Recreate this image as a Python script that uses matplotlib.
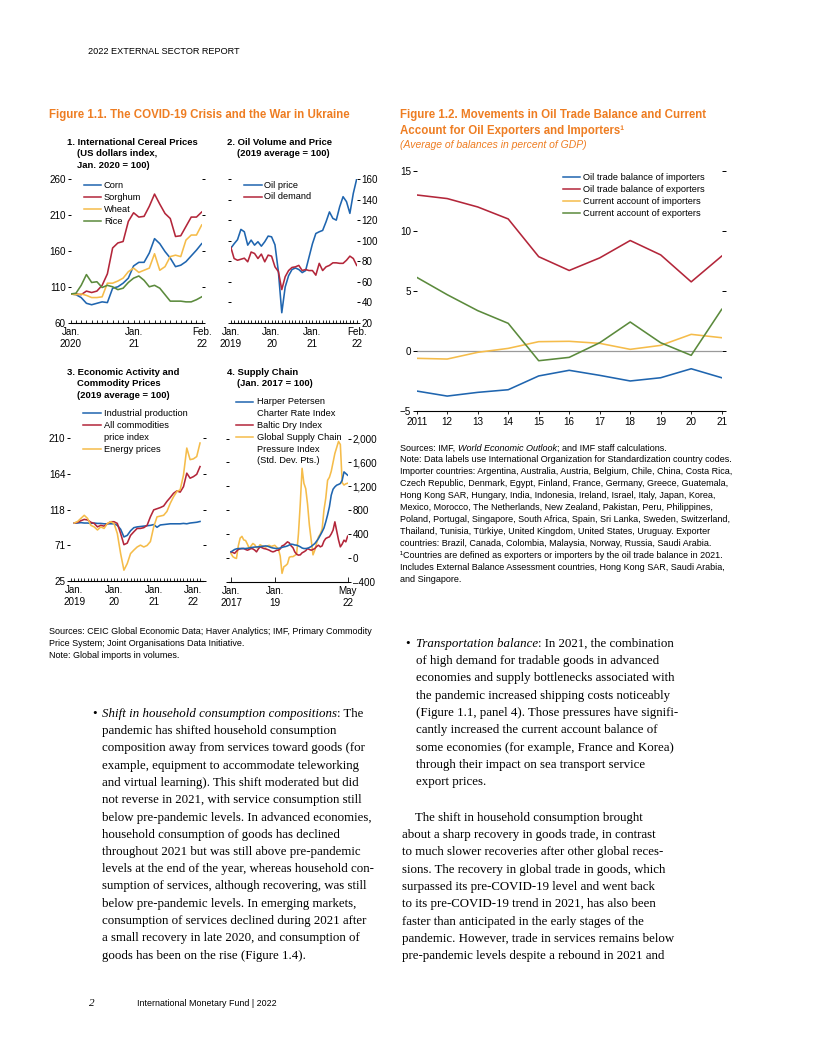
import matplotlib
matplotlib.use("Agg")
import matplotlib.pyplot as plt
from matplotlib.lines import Line2D
import numpy as np

W, H = 816, 1056
SANS = ["Liberation Sans Narrow", "Liberation Sans", "DejaVu Sans"]
SERIF = ["Liberation Serif", "DejaVu Serif"]
ORANGE = "#EE7D22"
BLUE = "#1F65AF"
RED = "#B3263A"
YELLOW = "#F5BC4A"
GREEN = "#5B8A3C"

# ---- Figure 1.1 panel 1: cereal prices, Jan 2020 - Feb 2022 (Jan 2020 = 100)
corn = [100, 99, 95, 87, 85, 87, 89, 88, 108, 110, 115, 122, 139,
        144, 144, 157, 177, 170, 159, 150, 138, 140, 145, 153, 161, 170]
sorghum = [100, 100, 99, 104, 102, 104, 112, 128, 164, 171, 173, 201, 213,
           207, 208, 222, 239, 225, 212, 205, 180, 181, 194, 207, 207, 214]
wheat = [100, 99, 100, 98, 95, 95, 96, 115, 115, 118, 122, 131, 136,
         130, 133, 136, 156, 133, 138, 152, 154, 152, 175, 182, 182, 196]
rice = [100, 101, 112, 127, 116, 117, 109, 112, 110, 106, 108, 116, 122,
        125, 119, 110, 112, 108, 99, 90, 90, 90, 89, 89, 92, 96]

# ---- panel 2: oil, Jan 2019 - Feb 2022 (2019 average = 100)
oil_price = [92.5, 97, 101, 111, 108.7, 95.7, 100.6, 95.7, 99, 94.7, 99, 104.5,
             103.8, 96, 70, 30, 55, 66, 72, 73.5, 72, 69, 71, 84,
             97, 107, 108.7, 110, 118.4, 128, 121.7, 120, 133, 142.8, 138, 126.6,
             146, 160]
oil_demand = [94, 82.7, 81, 82, 83, 79.5, 89, 87.6, 82.7, 87, 79.5, 86,
              85, 74.6, 70, 52.5, 65, 71, 74, 74.6, 76, 71, 72, 71,
              71, 66.5, 78, 71, 74.6, 76, 78.5, 78.5, 78, 78, 81, 85,
              82.7, 76]

# ---- panel 3: activity and commodities, Jan 2019 - Mar 2022 (2019 average = 100)
industrial = [100, 100, 100.5, 100, 100, 99.5, 100, 99.5, 99.5, 99, 99, 99,
              99, 97, 92, 82, 84, 90, 94, 95, 95.5, 96, 96.5, 97,
              98, 94.5, 97.5, 98, 98.5, 99, 99, 99, 99, 99.5, 99, 100,
              100.5, 101, 102]
all_comm = [100, 101, 103, 104.7, 104, 101, 99.5, 95, 97, 96, 99, 101.7,
            101.7, 99.5, 86.5, 72, 74, 84, 88.7, 93, 93, 94, 97, 108,
            117, 118.5, 120, 122, 128, 133, 138.5, 141.5, 140, 147, 164.5, 158,
            160, 163, 173]
energy = [100, 102, 106, 110, 106, 97, 95, 91, 95, 93, 99.5, 101.7,
          99.5, 86.5, 60.5, 39, 47.5, 60.5, 65, 69, 71.4, 69, 71, 76,
          95, 108, 109, 110, 115, 125.5, 134, 140.7, 143, 162, 197, 182,
          183, 186, 203.5]

# ---- panel 4: supply chain, Jan 2017 - May 2022 (Jan 2017 = 100)
harper = [100, 120, 140, 150, 156, 156, 156, 156, 156, 160, 165, 173,
          176, 180, 182, 184, 188, 192, 196, 200, 195, 185, 173, 165,
          160, 156, 158, 165, 175, 184, 190, 200, 215, 229, 225, 215,
          212, 200, 185, 165, 156, 156, 160, 173, 190, 215, 240, 280,
          324, 380, 436, 500, 603, 720, 855, 1050, 1150, 1190, 1218, 1230,
          1246, 1300, 1441, 1413, 1385]
baltic = [100, 90, 75, 110, 140, 150, 156, 156, 140, 128, 140, 156,
          150, 130, 100, 150, 184, 170, 156, 150, 140, 128, 110, 100,
          110, 128, 128, 150, 200, 212, 240, 268, 250, 200, 170, 100,
          61, 45, 50, 84, 100, 120, 156, 140, 128, 140, 156, 190,
          212, 184, 200, 280, 324, 340, 352, 400, 464, 603, 450, 300,
          184, 230, 296, 268, 363]
gscpi = [73, 20, 0, -10, 200, 330, 360, 300, 290, 230, 160, 200,
         240, 220, 170, 180, 220, 200, 190, 180, 200, 210, 190, 200,
         210, 180, 150, 30, -260, -150, -130, -100, 10, 20, 20, 40,
         60, 400, 900, 1500, 1250, 1160, 900, 550, 300, 50, 130, 250,
         350, 400, 480, 800, 1000, 1300, 1350, 1450, 1600, 1750, 1850, 1950,
         1900, 1260, 1220, 1240, 1250]

# ---- Figure 1.2: oil trade balance and current account (percent of GDP)
years = list(range(2011, 2022))
otb_importers = [-3.36, -3.78, -3.47, -3.25, -2.1, -1.63, -2.05, -2.52, -2.25, -1.5, -2.25]
otb_exporters = [13.0, 12.7, 12.0, 11.0, 7.85, 6.7, 7.75, 9.2, 8.0, 5.75, 7.9]
ca_importers = [-0.63, -0.69, -0.13, 0.2, 0.76, 0.79, 0.62, 0.12, 0.45, 1.37, 1.09]
ca_exporters = [6.13, 4.68, 3.35, 2.29, -0.83, -0.55, 0.67, 2.4, 0.67, -0.38, 3.46]

fig = plt.figure(figsize=(W / 100, H / 100), dpi=100)
renderer = fig.canvas.get_renderer()


def fx(x):
    return x / W


def fy(y):
    return 1 - y / H


def fit(s, target, **kw):
    # font size that gives the text the width it has on the page
    kw.setdefault("family", SANS)
    t = fig.text(0, 0, s, fontsize=10, **kw)
    w = t.get_window_extent(renderer).width
    t.remove()
    return 10 * target / w


def txt(x, y, s, **kw):
    kw.setdefault("family", SANS)
    kw.setdefault("va", "center")
    return fig.text(fx(x), fy(y), s, **kw)


def runs(x, y, parts, **kw):
    # pieces of one line in different styles, placed one after the other
    for s, style in parts:
        t = txt(x, y, s, fontstyle=style, **kw)
        x += t.get_window_extent(renderer).width


# the page uses a condensed face; widths are matched, then a little height given back
TITLE = fit("Figure 1.1. The COVID-19 Crisis and the War in Ukraine", 287, fontweight="bold") * 1.05
SUB = fit("(Average of balances in percent of GDP)", 176, fontstyle="italic") * 1.06
PT = fit("1. International Cereal Prices", 123, fontweight="bold") * 1.06
SRC = fit("Note: Data labels use International Organization for Standardization country codes.", 323) * 1.03
LEG = fit("Industrial production", 81) * 1.03
LEG2 = fit("Oil trade balance of importers", 117) * 1.05
TICK = fit("2011", 19) * 1.12
HEAD = fit("2022 EXTERNAL SECTOR REPORT", 140) * 1.08
FOOT = fit("International Monetary Fund | 2022", 128) * 1.08
BFS = 9.3


def make_ax(l, r, t, b):
    return fig.add_axes([fx(l), fy(b), (r - l) / W, (b - t) / H])


def style_ax(ax, side="left"):
    for s in ["top", "left", "right"]:
        ax.spines[s].set_visible(False)
    ax.spines["bottom"].set_linewidth(0.8)
    ax.tick_params(axis="y", which="both", left=True, right=True, length=2.2,
                   width=0.7, direction="out", pad=1.2, labelsize=TICK,
                   labelleft=(side == "left"), labelright=(side == "right"))
    ax.tick_params(axis="x", which="both", direction="in", length=2.5,
                   width=0.6, pad=3, labelsize=TICK)
    for lab in ax.get_xticklabels() + ax.get_yticklabels():
        lab.set_family(SANS)
        lab.set_linespacing(1.25)
    ax.patch.set_alpha(0)


def legend(x0, x1, xt, rows, fs):
    # rows: (y, colour or None, text)
    for y, c, s in rows:
        if c is not None:
            fig.add_artist(Line2D([fx(x0), fx(x1)], [fy(y), fy(y)], color=c, lw=1.1,
                                  transform=fig.transFigure))
        txt(xt, y, s, fontsize=fs)


# ---------------- header / titles ----------------
txt(88, 52, "2022 EXTERNAL SECTOR REPORT", fontsize=HEAD)
txt(49, 115, "Figure 1.1. The COVID-19 Crisis and the War in Ukraine",
    fontsize=TITLE, fontweight="bold", color=ORANGE)
txt(400, 115, "Figure 1.2. Movements in Oil Trade Balance and Current",
    fontsize=TITLE, fontweight="bold", color=ORANGE)
txt(400, 131, "Account for Oil Exporters and Importers\u00b9",
    fontsize=TITLE, fontweight="bold", color=ORANGE)
txt(400, 144.5, "(Average of balances in percent of GDP)",
    fontsize=SUB, fontstyle="italic", color=ORANGE)

# ---------------- panel 1 ----------------
ax1 = make_ax(70.7, 201.7, 179, 322.7)
m1 = np.arange(len(corn))
ax1.plot(m1, corn, color=BLUE, lw=1.15)
ax1.plot(m1, sorghum, color=RED, lw=1.15)
ax1.plot(m1, wheat, color=YELLOW, lw=1.15)
ax1.plot(m1, rice, color=GREEN, lw=1.15)
ax1.set_xlim(0, 25)
ax1.set_ylim(60, 260)
ax1.set_yticks([60, 110, 160, 210, 260])
ax1.set_xticks([0, 12, 25], ["Jan.\n2020", "Jan.\n21", "Feb.\n22"])
ax1.set_xticks(m1, minor=True)
style_ax(ax1)
txt(67.3, 142.3, "1. International Cereal Prices", fontsize=PT, fontweight="bold")
txt(77.3, 153.8, "(US dollars index,", fontsize=PT, fontweight="bold")
txt(77.3, 165.3, "Jan. 2020 = 100)", fontsize=PT, fontweight="bold")
legend(84, 101, 104, [(185.3, BLUE, "Corn"), (197.3, RED, "Sorghum"),
                      (209, YELLOW, "Wheat"), (221, GREEN, "Rice")], LEG)

# ---------------- panel 2 ----------------
ax2 = make_ax(230.7, 356.7, 179, 323)
m2 = np.arange(len(oil_price))
ax2.plot(m2, oil_price, color=BLUE, lw=1.15)
ax2.plot(m2, oil_demand, color=RED, lw=1.15)
ax2.set_xlim(0, 37)
ax2.set_ylim(20, 160)
ax2.set_yticks(range(20, 161, 20))
ax2.set_xticks([0, 12, 24, 37], ["Jan.\n2019", "Jan.\n20", "Jan.\n21", "Feb.\n22"])
ax2.set_xticks(m2, minor=True)
style_ax(ax2, side="right")
txt(227.3, 142.3, "2. Oil Volume and Price", fontsize=PT, fontweight="bold")
txt(237.3, 154, "(2019 average = 100)", fontsize=PT, fontweight="bold")
legend(244, 261.7, 264.5, [(185, BLUE, "Oil price"), (196.7, RED, "Oil demand")], LEG)

# ---------------- panel 3 ----------------
ax3 = make_ax(70, 203, 438, 581)
m3 = np.arange(len(industrial))
ax3.plot(m3, industrial, color=BLUE, lw=1.15)
ax3.plot(m3, all_comm, color=RED, lw=1.15)
ax3.plot(m3, energy, color=YELLOW, lw=1.15)
ax3.set_xlim(-1.3, 38.9)
ax3.set_ylim(25, 210)
ax3.set_yticks([25, 71.25, 117.5, 163.75, 210], ["25", "71", "118", "164", "210"])
ax3.set_xticks([0, 12, 24, 36], ["Jan.\n2019", "Jan.\n20", "Jan.\n21", "Jan.\n22"])
ax3.set_xticks(np.arange(-1, 39), minor=True)
style_ax(ax3)
txt(67.3, 372.5, "3. Economic Activity and", fontsize=PT, fontweight="bold")
txt(77.3, 384, "Commodity Prices", fontsize=PT, fontweight="bold")
txt(77.3, 395.7, "(2019 average = 100)", fontsize=PT, fontweight="bold")
legend(83.3, 100.7, 104, [(413.3, BLUE, "Industrial production"),
                          (425.3, RED, "All commodities"),
                          (437.3, None, "price index"),
                          (449.3, YELLOW, "Energy prices")], LEG)

# ---------------- panel 4 ----------------
ax4 = make_ax(229, 348, 438.5, 581.7)
m4 = np.arange(len(harper))
ax4.plot(m4, gscpi, color=YELLOW, lw=1.15)
ax4.plot(m4, baltic, color=RED, lw=1.15)
ax4.plot(m4, harper, color=BLUE, lw=1.15)
ax4.set_xlim(-1.1, 64.2)
ax4.set_ylim(-400, 2000)
ax4.set_yticks(range(-400, 2001, 400),
               ["\u2013400", "0", "400", "800", "1,200", "1,600", "2,000"])
ax4.set_xticks([0, 24, 64], ["Jan.\n2017", "Jan.\n19", "May\n22"])
style_ax(ax4, side="right")
ax4.tick_params(axis="x", length=3.5)
txt(227.3, 372.3, "4. Supply Chain", fontsize=PT, fontweight="bold")
txt(237.3, 384, "(Jan. 2017 = 100)", fontsize=PT, fontweight="bold")
legend(236, 253.3, 256.7, [(402, BLUE, "Harper Petersen"),
                           (413.5, None, "Charter Rate Index"),
                           (425.3, RED, "Baltic Dry Index"),
                           (437.3, YELLOW, "Global Supply Chain"),
                           (449.3, None, "Pressure Index"),
                           (460.9, None, "(Std. Dev. Pts.)")], LEG)

# sources fig 1.1
for i, s in enumerate(["Sources: CEIC Global Economic Data; Haver Analytics; IMF, Primary Commodity",
                       "Price System; Joint Organisations Data Initiative.",
                       "Note: Global imports in volumes."]):
    txt(49, 631 + 12 * i, s, fontsize=SRC)

# ---------------- Figure 1.2 ----------------
ax5 = make_ax(416.7, 721.7, 171, 410.7)
ax5.axhline(0, color="#9a9a9a", lw=0.9, zorder=1)
ax5.plot(years, otb_importers, color=BLUE, lw=1.15)
ax5.plot(years, otb_exporters, color=RED, lw=1.15)
ax5.plot(years, ca_importers, color=YELLOW, lw=1.15)
ax5.plot(years, ca_exporters, color=GREEN, lw=1.15)
ax5.set_xlim(2011, 2021)
ax5.set_ylim(-5, 15)
ax5.set_yticks([-5, 0, 5, 10, 15], ["\u22125", "0", "5", "10", "15"])
ax5.set_xticks(years, ["2011"] + [str(y)[2:] for y in years[1:]])
style_ax(ax5)
ax5.tick_params(axis="x", direction="out", length=2.5, pad=2)
ax5.tick_params(axis="y", length=3)
legend(563.3, 580, 583.3, [(177.3, BLUE, "Oil trade balance of importers"),
                           (189.3, RED, "Oil trade balance of exporters"),
                           (201.3, YELLOW, "Current account of importers"),
                           (213.3, GREEN, "Current account of exporters")], LEG2)

src12 = ["Note: Data labels use International Organization for Standardization country codes.",
         "Importer countries: Argentina, Australia, Austria, Belgium, Chile, China, Costa Rica,",
         "Czech Republic, Denmark, Egypt, Finland, France, Germany, Greece, Guatemala,",
         "Hong Kong SAR, Hungary, India, Indonesia, Ireland, Israel, Italy, Japan, Korea,",
         "Mexico, Morocco, The Netherlands, New Zealand, Pakistan, Peru, Philippines,",
         "Poland, Portugal, Singapore, South Africa, Spain, Sri Lanka, Sweden, Switzerland,",
         "Thailand, Tunisia, T\u00fcrkiye, United Kingdom, United States, Uruguay. Exporter",
         "countries: Brazil, Canada, Colombia, Malaysia, Norway, Russia, Saudi Arabia.",
         "\u00b9Countries are defined as exporters or importers by the oil trade balance in 2021.",
         "Includes External Balance Assessment countries, Hong Kong SAR, Saudi Arabia,",
         "and Singapore."]
runs(400, 448, [("Sources: IMF, ", "normal"), ("World Economic Outlook", "italic"),
                ("; and IMF staff calculations.", "normal")], fontsize=SRC)
for i, s in enumerate(src12):
    txt(400, 448 + 12 * (i + 1), s, fontsize=SRC)

# ---------------- body text ----------------
LS = 17.25
left_lines = ["pandemic has shifted household consumption",
              "composition away from services toward goods (for",
              "example, equipment to accommodate teleworking",
              "and virtual learning). This shift moderated but did",
              "not reverse in 2021, with service consumption still",
              "below pre-pandemic levels. In advanced economies,",
              "household consumption of goods has declined",
              "throughout 2021 but was still above pre-pandemic",
              "levels at the end of the year, whereas household con-",
              "sumption of services, although recovering, was still",
              "below pre-pandemic levels. In emerging markets,",
              "consumption of services declined during 2021 after",
              "a small recovery in late 2020, and consumption of",
              "goods has been on the rise (Figure 1.4)."]
txt(92, 714, "\u2022", fontsize=BFS, family=SERIF)
runs(102.3, 714, [("Shift in household consumption compositions", "italic"),
                  (": The", "normal")], fontsize=BFS, family=SERIF)
for i, s in enumerate(left_lines):
    txt(102.3, 714 + LS * (i + 1), s, fontsize=BFS, family=SERIF)

right_lines = ["of high demand for tradable goods in advanced",
               "economies and supply bottlenecks associated with",
               "the pandemic increased shipping costs noticeably",
               "(Figure 1.1, panel 4). Those pressures have signifi-",
               "cantly increased the current account balance of",
               "some economies (for example, France and Korea)",
               "through their impact on sea transport service",
               "export prices."]
txt(405.5, 644, "\u2022", fontsize=BFS, family=SERIF)
runs(415.5, 644, [("Transportation balance", "italic"),
                  (": In 2021, the combination", "normal")], fontsize=BFS, family=SERIF)
for i, s in enumerate(right_lines):
    txt(415.5, 644 + LS * (i + 1), s, fontsize=BFS, family=SERIF)

para = ["about a sharp recovery in goods trade, in contrast",
        "to much slower recoveries after other global reces-",
        "sions. The recovery in global trade in goods, which",
        "surpassed its pre-COVID-19 level and went back",
        "to its pre-COVID-19 trend in 2021, has also been",
        "faster than anticipated in the early stages of the",
        "pandemic. However, trade in services remains below",
        "pre-pandemic levels despite a rebound in 2021 and"]
txt(415, 818, "The shift in household consumption brought", fontsize=BFS, family=SERIF)
for i, s in enumerate(para):
    txt(402, 818 + LS * (i + 1), s, fontsize=BFS, family=SERIF)

# footer
txt(89, 1004, "2", fontsize=8, family=SERIF, fontstyle="italic")
txt(137, 1004, "International Monetary Fund | 2022", fontsize=FOOT)

fig.savefig("out.png", dpi=100)
